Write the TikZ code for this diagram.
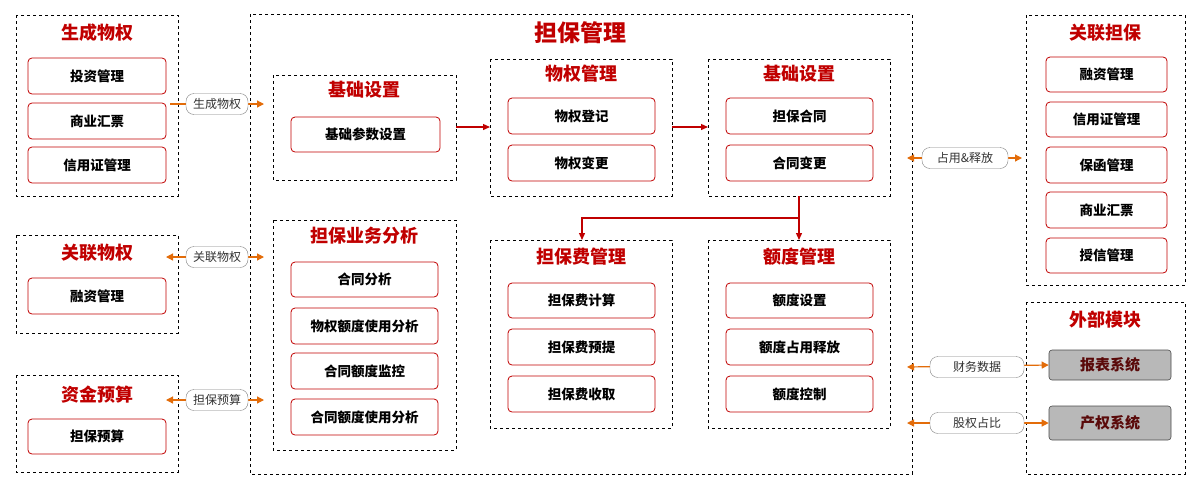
\documentclass[tikz,border=0pt]{standalone}
\usepackage{fontspec}
\setmainfont{Noto Sans CJK SC}
\usetikzlibrary{arrows.meta}
\definecolor{tred}{HTML}{C00000}
\definecolor{org}{HTML}{E36C09}
\definecolor{maroon}{HTML}{5A0A0A}
\begin{document}
\begin{tikzpicture}[x=1pt,y=-1pt,
 panel/.style={draw,dashed,line width=0.6pt},
 ttl/.style={text=tred,font=\bfseries\fontsize{18}{20}\selectfont},
 big/.style={text=tred,font=\bfseries\fontsize{23}{25}\selectfont},
 item/.style={draw=tred,rounded corners=4pt,line width=0.8pt,font=\fontsize{13.5}{15}\selectfont\bfseries},
 gbox/.style={draw=black!70,fill=black!28,rounded corners=3pt,line width=0.6pt,text=maroon,font=\bfseries\fontsize{15}{17}\selectfont},
 pill/.style={draw=black!50,rounded corners=8pt,fill=white,inner sep=2pt,minimum height=21pt,font=\fontsize{12}{13}\selectfont,text=black!80},
 oa/.style={draw=org,line width=1.2pt,-{Triangle[length=7pt,width=7pt]}},
 ob/.style={draw=org,line width=1.2pt,{Triangle[length=7pt,width=7pt]}-{Triangle[length=7pt,width=7pt]}},
 ra/.style={draw=tred,line width=1.3pt,-{Triangle[length=7pt,width=6pt]}}]
\useasboundingbox (0,0) rectangle (1196,488);
\newcommand\bx[6]{\node[item,minimum width=#4-#2,minimum height=#5-#3] (#1) at ({(#2+#4)/2},{(#3+#5)/2}) {#6};}
\newcommand\pn[6]{\draw[panel] (#2,#3) rectangle (#4,#5); \coordinate (#1) at (#2,#3);}
% left
\pn{p1}{16}{15}{178}{196}{}
\node[ttl] (t1) at (97,33) {生成物权};
\bx{a1}{28}{58}{166}{94}{投资管理}
\bx{a2}{28}{103}{166}{139}{商业汇票}
\bx{a3}{28}{147}{166}{183}{信用证管理}
\pn{p2}{16}{235}{178}{333}{}
\node[ttl] (t2) at (97,253) {关联物权};
\bx{b1}{28}{278}{166}{314}{融资管理}
\pn{p3}{16}{375}{178}{472}{}
\node[ttl] (t3) at (97,395) {资金预算};
\bx{c1}{28}{419}{166}{454}{担保预算}
% main
\pn{pm}{250}{14}{912}{474}{}
\node[big] (tm) at (580,33) {担保管理};
\pn{q1}{273}{75}{456}{180}{}
\node[ttl] (s1) at (364,90) {基础设置};
\bx{d1}{291}{117}{440}{152}{基础参数设置}
\pn{q2}{490}{59}{672}{196}{}
\node[ttl] (s2) at (581,74) {物权管理};
\bx{e1}{508}{98}{655}{134}{物权登记}
\bx{e2}{508}{145}{655}{181}{物权变更}
\pn{q3}{708}{59}{890}{196}{}
\node[ttl] (s3) at (799,74) {基础设置};
\bx{f1}{726}{98}{873}{134}{担保合同}
\bx{f2}{726}{145}{873}{181}{合同变更}
\pn{q4}{273}{220}{456}{450}{}
\node[ttl] (s4) at (364,236) {担保业务分析};
\bx{g1}{291}{262}{438}{297}{合同分析}
\bx{g2}{291}{308}{438}{344}{物权额度使用分析}
\bx{g3}{291}{353}{438}{389}{合同额度监控}
\bx{g4}{291}{399}{438}{435}{合同额度使用分析}
\pn{q5}{490}{240}{672}{428}{}
\node[ttl] (s5) at (581,257) {担保费管理};
\bx{h1}{508}{283}{655}{318}{担保费计算}
\bx{h2}{508}{329}{655}{365}{担保费预提}
\bx{h3}{508}{376}{655}{412}{担保费收取}
\pn{q6}{708}{240}{890}{428}{}
\node[ttl] (s6) at (799,257) {额度管理};
\bx{i1}{726}{283}{873}{318}{额度设置}
\bx{i2}{726}{329}{873}{365}{额度占用释放}
\bx{i3}{726}{376}{873}{412}{额度控制}
% red arrows
\coordinate (r1a) at (456,127); \coordinate (r1b) at (490,127);
\coordinate (r2a) at (672,127); \coordinate (r2b) at (708,127);
\draw[ra] (r1a) -- (r1b);
\draw[ra] (r2a) -- (r2b);
\coordinate (br) at (799,196); \coordinate (bj) at (799,218);
\coordinate (bl) at (582,218); \coordinate (bl2) at (582,240); \coordinate (bj2) at (799,240);
\draw[ra] (br) -- (bj2);
\draw[ra] (bj) -- (bl) -- (bl2);
% right
\pn{p4}{1026}{15}{1185}{285}{}
\node[ttl] (t4) at (1105,33) {关联担保};
\bx{j1}{1046}{57}{1167}{92}{融资管理}
\bx{j2}{1046}{102}{1167}{137}{信用证管理}
\bx{j3}{1046}{147}{1167}{183}{保函管理}
\bx{j4}{1046}{192}{1167}{228}{商业汇票}
\bx{j5}{1046}{238}{1167}{273}{授信管理}
\pn{p5}{1026}{302}{1185}{474}{}
\node[ttl] (t5) at (1105,320) {外部模块};
\node[gbox,minimum width=122pt,minimum height=30pt] (k1) at (1110,365) {报表系统};
\node[gbox,minimum width=122pt,minimum height=34pt] (k2) at (1110,423) {产权系统};
% orange connectors
\coordinate (l1a) at (170,104); \coordinate (l1b) at (264,104);
\draw[oa] (l1a) -- (l1b);
\node[pill,minimum width=62pt] (m1) at (217,104) {生成物权};
\coordinate (l2a) at (166,257); \coordinate (l2b) at (264,257);
\draw[ob] (l2a) -- (l2b);
\node[pill,minimum width=62pt] (m2) at (217,257) {关联物权};
\coordinate (l3a) at (166,400); \coordinate (l3b) at (264,400);
\draw[ob] (l3a) -- (l3b);
\node[pill,minimum width=62pt] (m3) at (217,400) {担保预算};
\coordinate (r3a) at (907,158); \coordinate (r3b) at (1022,158);
\draw[ob] (r3a) -- (r3b);
\node[pill,minimum width=86pt] (m4) at (965,158) {占用\&释放};
\coordinate (r4a) at (907,367);
\draw[ob] (r4a) -- (k1.west);
\node[pill,minimum width=94pt] (m5) at (977,367) {财务数据};
\coordinate (r5a) at (907,423);
\draw[ob] (r5a) -- (k2.west);
\node[pill,minimum width=94pt] (m6) at (977,423) {股权占比};
\end{tikzpicture}
\end{document}
